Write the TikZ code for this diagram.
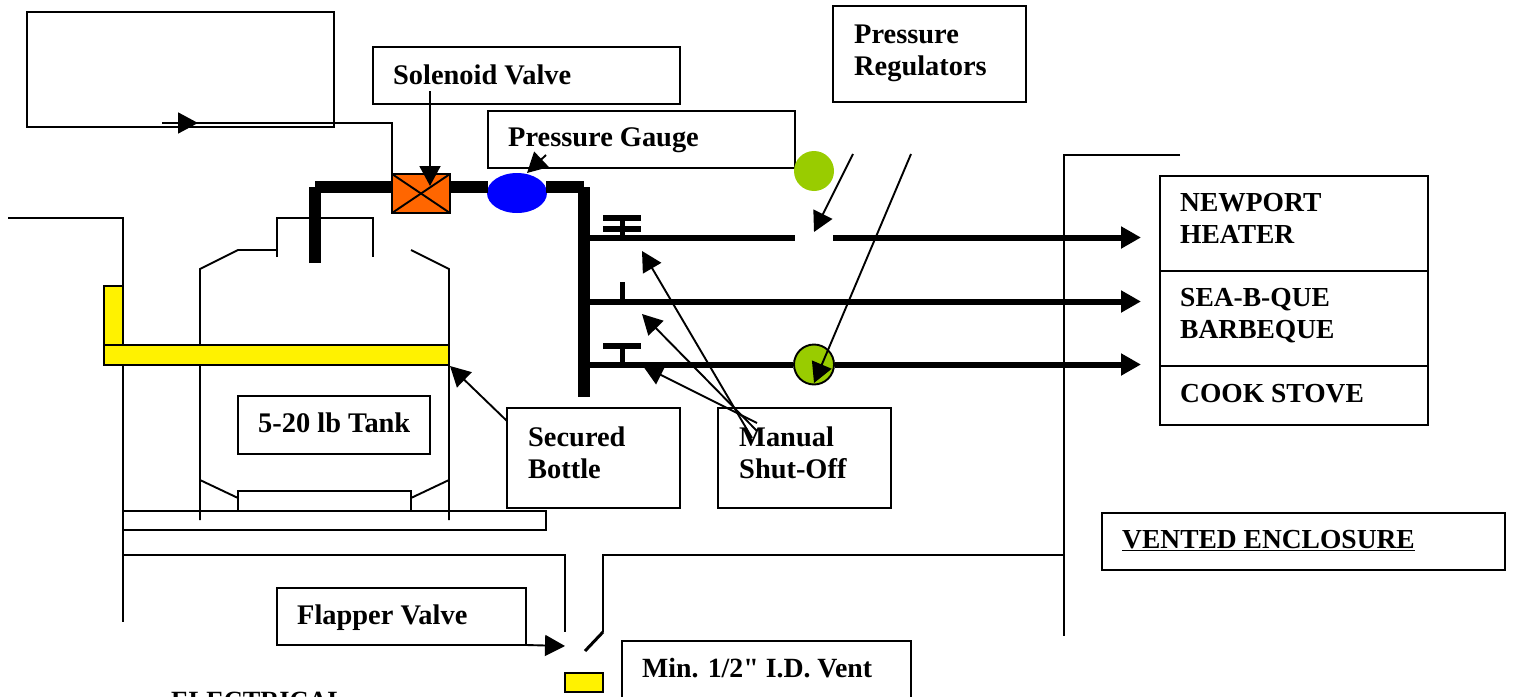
\documentclass[tikz,border=0pt]{standalone}
\usepackage{fontspec}
\setmainfont[Ligatures=TeXOff]{Liberation Serif}
\usetikzlibrary{arrows.meta,shapes.geometric}
\definecolor{valveorange}{HTML}{FF6600}
\definecolor{regulatorgreen}{HTML}{99CC00}
\tikzset{
    thinline/.style={line width=1.9pt},
    pipe/.style={line width=12pt},
    branch/.style={line width=6pt},
    stem/.style={line width=5pt},
    pointer/.style={thinline, -{Triangle[length=20pt,width=21pt]}},
    branchend/.style={branch, -{Triangle[length=20pt,width=21pt]}},
    labelbox/.style={draw, thinline, fill=white, anchor=north west, inner sep=0pt, outer sep=0pt},
    labeltext/.style={font=\fontsize{28.4}{32}\selectfont\bfseries, anchor=base west, inner sep=0pt, align=left},
    capstext/.style={labeltext, font=\fontsize{27.5}{32}\selectfont\bfseries}
}
\begin{document}
\begin{tikzpicture}[x=1pt, y=-1pt]
    \useasboundingbox (0,0) rectangle (1514,696);
    % walls of the locker
    \coordinate (wallstart) at (8,218);
    \coordinate (wallcorner) at (123,218);
    \coordinate (wallend) at (123,622);
    \draw[thinline] (wallstart) -- (wallcorner) -- (wallend);
    \coordinate (floorleft) at (123,555);
    \coordinate (floorright) at (565,555);
    \coordinate (floordrop) at (565,632);
    \draw[thinline] (floorleft) -- (floorright) -- (floordrop);
    \coordinate (enclosuretop) at (1180,155);
    \coordinate (enclosurecorner) at (1064,155);
    \coordinate (enclosureend) at (1064,636);
    \draw[thinline] (enclosuretop) -- (enclosurecorner) -- (enclosureend);
    \coordinate (enclosurefloor) at (1064,555);
    \coordinate (ventcorner) at (603,555);
    \coordinate (flapperhinge) at (603,632);
    \coordinate (flappertip) at (585,651);
    \draw[thinline] (enclosurefloor) -- (ventcorner) -- (flapperhinge);
    \draw[line width=3pt] (flapperhinge) -- (flappertip);
    % shelf and tank
    \node[labelbox, minimum width=423pt, minimum height=19pt] (shelf) at (123,511) {};
    \draw[thinline] (200,520) -- (200,269) -- (238,250) -- (277,250);
    \draw[thinline] (277,257) -- (277,218) -- (373,218) -- (373,257);
    \draw[thinline] (411,250) -- (449,269) -- (449,520);
    \draw[thinline] (200,480) -- (238,498);
    \draw[thinline] (449,480) -- (411,498);
    \draw[thinline] (238,511) -- (238,491) -- (411,491) -- (411,511);
    % bracket
    \node[labelbox, fill=yellow, minimum width=19pt, minimum height=59pt] (bracket) at (104,286) {};
    \node[labelbox, fill=yellow, minimum width=345pt, minimum height=20pt] (strap) at (104,345) {};
    % label boxes
    \node[labelbox, minimum width=307pt, minimum height=115pt] (controlbox) at (27,12) {};
    \node[labelbox, minimum width=307pt, minimum height=57pt] (solenoidbox) at (373,47) {};
    \node[labeltext] (solenoidtext) at (393,84) {Solenoid Valve};
    \node[labelbox, minimum width=307pt, minimum height=57pt] (gaugebox) at (488,111) {};
    \node[labeltext] (gaugetext) at (508,146) {Pressure Gauge};
    \node[labelbox, minimum width=193pt, minimum height=96pt] (regulatorbox) at (833,6) {};
    \node[labeltext, anchor=north west] (regulatortext) at (854,25) {Pressure\\Regulators};
    \node[labelbox, minimum width=268pt, minimum height=95pt] (heaterbox) at (1160,176) {};
    \node[capstext, anchor=north west] (heatertext) at (1180,193) {NEWPORT\\HEATER};
    \node[labelbox, minimum width=268pt, minimum height=95pt] (barbequebox) at (1160,271) {};
    \node[capstext, anchor=north west] (barbequetext) at (1180,288) {SEA-B-QUE\\BARBEQUE};
    \node[labelbox, minimum width=268pt, minimum height=59pt] (stovebox) at (1160,366) {};
    \node[capstext] (stovetext) at (1180,402) {COOK STOVE};
    \node[labelbox, minimum width=403pt, minimum height=57pt] (ventedbox) at (1102,513) {};
    \node[capstext] (ventedtext) at (1122,548) {\underline{VENTED ENCLOSURE}};
    \node[labelbox, minimum width=192pt, minimum height=58pt] (tankbox) at (238,396) {};
    \node[labeltext] (tanktext) at (258,432) {5-20 lb Tank};
    \node[labelbox, minimum width=173pt, minimum height=100pt] (securedbox) at (507,408) {};
    \node[labeltext, anchor=north west] (securedtext) at (528,427) {Secured\\Bottle};
    \node[labelbox, minimum width=173pt, minimum height=100pt] (shutoffbox) at (718,408) {};
    \node[labeltext, anchor=north west] (shutofftext) at (739,427) {Manual\\Shut-Off};
    \node[labelbox, minimum width=249pt, minimum height=57pt] (flapperbox) at (277,588) {};
    \node[labeltext] (flappertext) at (297,624) {Flapper Valve};
    \node[labelbox, minimum width=289pt, minimum height=70pt] (ventbox) at (622,641) {};
    \node[labeltext, font=\fontsize{27.8}{32}\selectfont\bfseries] (venttext) at (642,677) {Min. 1/2" I.D. Vent};
    \node[capstext, font=\fontsize{26.3}{32}\selectfont\bfseries] (electricaltext) at (171,709) {ELECTRICAL};
    \node[labelbox, fill=yellow, minimum width=38pt, minimum height=19pt] (ventflap) at (565,673) {};
    % piping
    \node[draw, thinline, fill=valveorange, inner sep=0pt, outer sep=0pt, anchor=north west, minimum width=58pt, minimum height=39pt] (valve) at (392,174) {};
    \draw[thinline] (valve.north west) -- (valve.south east);
    \draw[thinline] (valve.south west) -- (valve.north east);
    \node[ellipse, fill=blue, inner sep=0pt, minimum width=60pt, minimum height=40pt] (gauge) at (517,193) {};
    \coordinate (pipebottom) at (315,263);
    \coordinate (pipecorner) at (315,187);
    \coordinate (pipevalve) at (392,187);
    \coordinate (pipeout) at (450,187);
    \coordinate (pipegaugein) at (488,187);
    \coordinate (pipegaugeout) at (546,187);
    \coordinate (riserright) at (584,187);
    \coordinate (riserbottom) at (584,397);
    \draw[pipe] (pipebottom) -- (pipecorner);
    \draw[pipe] (pipecorner) -- (pipevalve);
    \draw[pipe] (pipeout) -- (pipegaugein);
    \draw[pipe] (pipegaugeout) -- (riserright);
    \draw[pipe] (riserright) -- (riserbottom);
    \node[circle, fill=regulatorgreen, inner sep=0pt, minimum size=40pt] (spareregulator) at (814,171) {};
    \node[circle, draw, thinline, fill=regulatorgreen, inner sep=0pt, minimum size=40pt] (stoveregulator) at (814,364.5) {};
    % branches
    \coordinate (heaterstart) at (590,237.5);
    \coordinate (heatergap) at (795,237.5);
    \coordinate (heaterresume) at (833,237.5);
    \coordinate (heaterend) at (1141,237.5);
    \coordinate (barbequestart) at (590,301.5);
    \coordinate (barbequeend) at (1141,301.5);
    \coordinate (stovestart) at (590,364.5);
    \coordinate (stoveend) at (1141,364.5);
    \draw[branch] (heaterstart) -- (heatergap);
    \draw[branchend] (heaterresume) -- (heaterend);
    \draw[branchend] (barbequestart) -- (barbequeend);
    \draw[branch] (stovestart) -- (stoveregulator.west);
    \draw[branchend] (stoveregulator.east) -- (stoveend);
    % shut-off handles
    \draw[branch] (603,218) -- (641,218);
    \draw[branch] (603,229) -- (641,229);
    \draw[stem] (622,218) -- (622,235);
    \draw[stem] (622,282) -- (622,299);
    \draw[branch] (603,345.5) -- (641,345.5);
    \draw[stem] (622,345) -- (622,362);
    % pointers
    \coordinate (controlstart) at (162,123);
    \coordinate (controltip) at (198,123);
    \draw[thinline] (valve.north west) |- (controlstart);
    \draw[pointer] (controlstart) -- (controltip);
    \coordinate (solenoidstart) at (430,91);
    \coordinate (solenoidtip) at (430,186);
    \draw[pointer] (solenoidstart) -- (solenoidtip);
    \coordinate (gaugestart) at (546,155);
    \coordinate (gaugetip) at (527,173);
    \draw[pointer] (gaugestart) -- (gaugetip);
    \coordinate (regulatorstartone) at (853,154);
    \coordinate (regulatortipone) at (814,232);
    \draw[pointer] (regulatorstartone) -- (regulatortipone);
    \coordinate (regulatorstarttwo) at (911,154);
    \coordinate (regulatortiptwo) at (814,383);
    \draw[pointer] (regulatorstarttwo) -- (regulatortiptwo);
    \coordinate (shutoffstartone) at (752,438);
    \coordinate (shutoffstarttwo) at (757,431);
    \coordinate (shutoffstartthree) at (757,423);
    \coordinate (shutofftipone) at (642,251);
    \coordinate (shutofftiptwo) at (642,314);
    \coordinate (shutofftipthree) at (643,366);
    \draw[pointer] (shutoffstartone) -- (shutofftipone);
    \draw[pointer] (shutoffstarttwo) -- (shutofftiptwo);
    \draw[pointer] (shutoffstartthree) -- (shutofftipthree);
    \coordinate (securedstart) at (507,421);
    \coordinate (securedtip) at (450,366);
    \draw[pointer] (securedstart) -- (securedtip);
    \coordinate (flappertarget) at (565,646);
    \draw[pointer] (flapperbox.south east) -- (flappertarget);
\end{tikzpicture}
\end{document}
